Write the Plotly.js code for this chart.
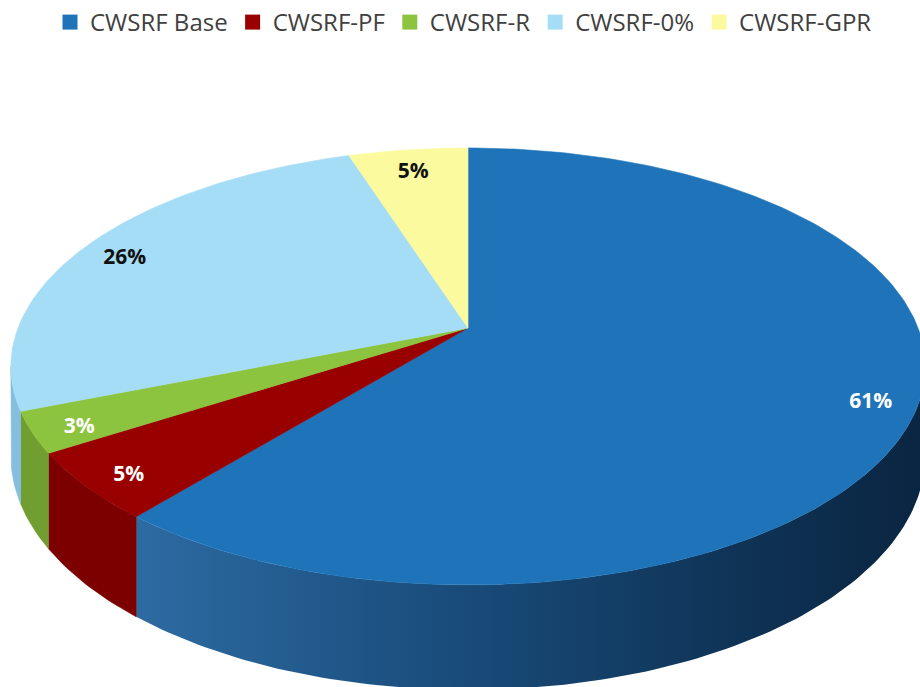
<!DOCTYPE html>
<html>
<head>
<meta charset="utf-8">
<script src="https://cdn.plot.ly/plotly-3.0.1.min.js"></script>
<style>html,body{margin:0;padding:0;background:#fff;}#chart{width:920px;height:687px;}</style>
</head>
<body>
<div id="chart"></div>
<script>
// ---- data ----
const categories = ['CWSRF Base', 'CWSRF-PF', 'CWSRF-R', 'CWSRF-0%', 'CWSRF-GPR'];
const shares = [61, 5, 3, 26, 5];
const shareLabels = ['61%', '5%', '3%', '26%', '5%'];
const topColors = ['#1F74B9', '#990000', '#8DC43F', '#A6DDF6', '#FCFA9E'];
const wallColors = ['#1A4A78', '#7C0000', '#719E31', '#86BEDF', '#D8D67F'];
const labelColors = ['#FFFFFF', '#FFFFFF', '#FFFFFF', '#111111', '#111111'];

// ---- 3D pie projection (layout constants) ----
const CX = 468, CY = 328, A = 450, B = 211.7, K = 0.176, H = 86.5;
function proj(theta, r, drop) {
  const u = r * Math.sin(theta), v = r * Math.cos(theta);
  const d = 1 + K * v;
  return [CX + A * u / d, CY - B * v / d + (drop ? H / d : 0)];
}
const deg = Math.PI / 180;
const visLo = Math.acos(-K);               // silhouette (right)
const visHi = 2 * Math.PI - Math.acos(-K); // silhouette (left)

const total = shares.reduce((s, v) => s + v, 0);
const wallTraces = [], topTraces = [];
let cum = 0;
const mids = [];
shares.forEach((val, i) => {
  const a = cum / total * 2 * Math.PI;
  cum += val;
  const b = cum / total * 2 * Math.PI;
  mids.push((a + b) / 2);
  // top face
  const tx = [CX], ty = [CY];
  const n = Math.max(8, Math.ceil((b - a) / deg));
  for (let k = 0; k <= n; k++) {
    const p = proj(a + (b - a) * k / n, 1, false);
    tx.push(p[0]); ty.push(p[1]);
  }
  tx.push(CX); ty.push(CY);
  topTraces.push({
    type: 'scatter', mode: 'lines', x: tx, y: ty, fill: 'toself',
    fillcolor: topColors[i], line: {color: topColors[i], width: 0.6},
    hoverinfo: 'skip', showlegend: false
  });
  // outer wall (visible part only)
  const wa = Math.max(a, visLo), wb = Math.min(b, visHi);
  if (wb > wa) {
    const wx = [], wy = [];
    const m = Math.max(8, Math.ceil((wb - wa) / deg));
    for (let k = 0; k <= m; k++) {
      const p = proj(wa + (wb - wa) * k / m, 1, false);
      wx.push(p[0]); wy.push(p[1]);
    }
    for (let k = m; k >= 0; k--) {
      const p = proj(wa + (wb - wa) * k / m, 1, true);
      wx.push(p[0]); wy.push(p[1]);
    }
    wx.push(wx[0]); wy.push(wy[0]);
    const t = {
      type: 'scatter', mode: 'lines', x: wx, y: wy, fill: 'toself',
      fillcolor: wallColors[i], line: {color: wallColors[i], width: 0.6},
      hoverinfo: 'skip', showlegend: false
    };
    if (i === 0) {
      t.fillgradient = {type: 'horizontal',
        colorscale: [[0, '#2D6BA2'], [0.4, '#194C7B'], [0.75, '#0F3457'], [1, '#0A2541']]};
      t.line = {color: 'rgba(0,0,0,0)', width: 0};
    }
    wallTraces.push(t);
  }
});

// labels
const LR = 0.9, LDY = 7;
const lx = [], ly = [];
mids.forEach(m => { const p = proj(m, LR, false); lx.push(p[0]); ly.push(p[1] + LDY); });
const labelTrace = {
  type: 'scatter', mode: 'text', x: lx, y: ly,
  text: shareLabels.map(s => '<b>' + s + '</b>'),
  textposition: 'middle center',
  textfont: {family: 'Open Sans', size: 21, color: labelColors},
  hoverinfo: 'skip', showlegend: false
};

// legend entries
const legendTraces = categories.map((c, i) => ({
  type: 'scatter', mode: 'markers', x: [null], y: [null], name: c,
  marker: {symbol: 'square', size: 15, color: topColors[i]},
  hoverinfo: 'skip', showlegend: true
}));

const data = [...wallTraces, ...topTraces, labelTrace, ...legendTraces];

const layout = {
  width: 920, height: 687,
  margin: {l: 0, r: 0, t: 0, b: 0},
  paper_bgcolor: '#FFFFFF', plot_bgcolor: '#FFFFFF',
  xaxis: {range: [0, 920], visible: false, fixedrange: true},
  yaxis: {range: [687, 0], visible: false, fixedrange: true},
  showlegend: true,
  legend: {
    orientation: 'h', x: 50 / 920, xanchor: 'left', y: 1, yanchor: 'top',
    font: {family: 'Open Sans', size: 24, color: '#404040'},
    bgcolor: 'rgba(0,0,0,0)', itemwidth: 30, traceorder: 'normal'
  },
  hovermode: false
};

Plotly.newPlot('chart', data, layout, {displayModeBar: false, staticPlot: true});
</script>
</body>
</html>
